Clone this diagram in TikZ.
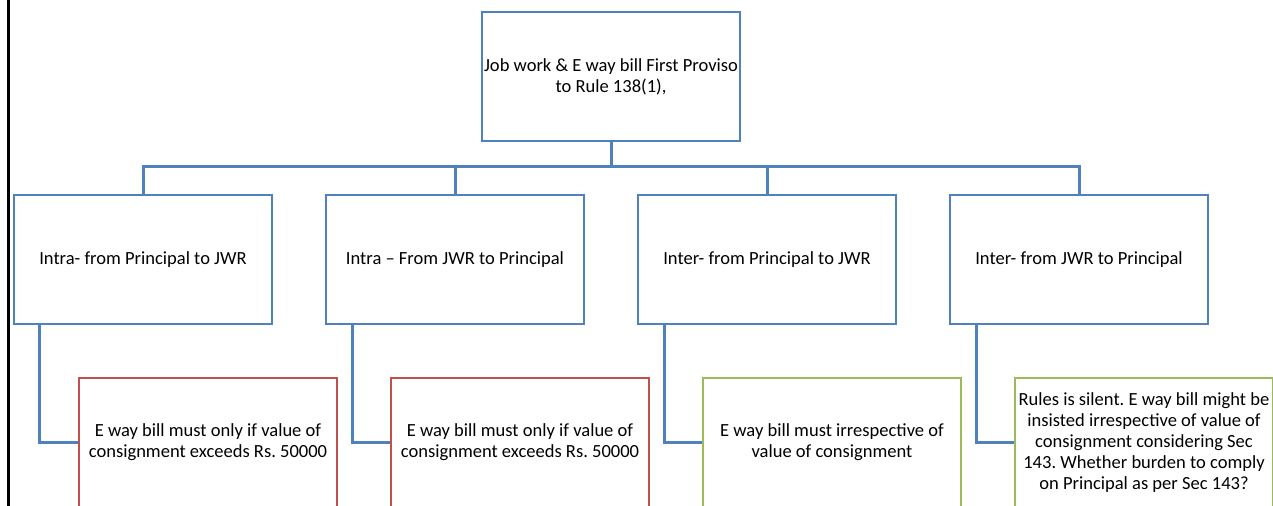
\documentclass[tikz,border=0pt]{standalone}
\usepackage{fontspec}
\setmainfont{Carlito}
\frenchspacing
\definecolor{boxblue}{RGB}{79,129,189}
\definecolor{boxred}{RGB}{192,80,77}
\definecolor{boxgreen}{RGB}{155,187,89}
\begin{document}
\begin{tikzpicture}[x=1bp,y=-1bp,
  every node/.style={font=\fontsize{18.6}{21}\selectfont, align=center, inner sep=0pt},
  card/.style={draw, line width=2.2bp, minimum width=258bp, minimum height=129bp},
  headbox/.style={card, draw=boxblue},
  redbox/.style={card, draw=boxred},
  greenbox/.style={card, draw=boxgreen},
  conn/.style={draw=boxblue, line width=3bp}]
\useasboundingbox (0,0) rectangle (1273,506);
\clip (0,0) rectangle (1273,506);

% left margin rule
\draw[line width=3bp, black] (8.5,0) -- (8.5,506);

% root
\node[headbox] (top) at (611,76.5) {Job work \& E way bill First Proviso\\to Rule 138(1),};

% second level
\node[headbox] (l1) at (143,259.5) {Intra- from Principal to JWR};
\node[headbox] (l2) at (455,259.5) {Intra – From JWR to Principal};
\node[headbox] (l3) at (767,259.5) {Inter- from Principal to JWR};
\node[headbox] (l4) at (1079,259.5) {Inter- from JWR to Principal};

% third level
\node[redbox] (d1) at (208,442.5) {E way bill must only if value of\\consignment exceeds Rs. 50000};
\node[redbox] (d2) at (520,442.5) {E way bill must only if value of\\consignment exceeds Rs. 50000};
\node[greenbox] (d3) at (832,442.5) {E way bill must irrespective of\\value of consignment};
\node[greenbox] (d4) at (1144,442.5) {Rules is silent. E way bill might be\\insisted irrespective of value of\\consignment considering Sec\\143. Whether burden to comply\\on Principal as per Sec 143?};

% tree connectors
\coordinate (bar) at (611,167);
\draw[conn] (top.south) -- (bar);
\draw[conn] (l1.north) -- (l1.north |- bar) -- (l4.north |- bar) -- (l4.north);
\draw[conn] (l2.north) -- (l2.north |- bar);
\draw[conn] (l3.north) -- (l3.north |- bar);

% elbow connectors to the details
\draw[conn] ([xshift=-103bp]l1.south) |- (d1.west);
\draw[conn] ([xshift=-103bp]l2.south) |- (d2.west);
\draw[conn] ([xshift=-103bp]l3.south) |- (d3.west);
\draw[conn] ([xshift=-103bp]l4.south) |- (d4.west);
\end{tikzpicture}
\end{document}
